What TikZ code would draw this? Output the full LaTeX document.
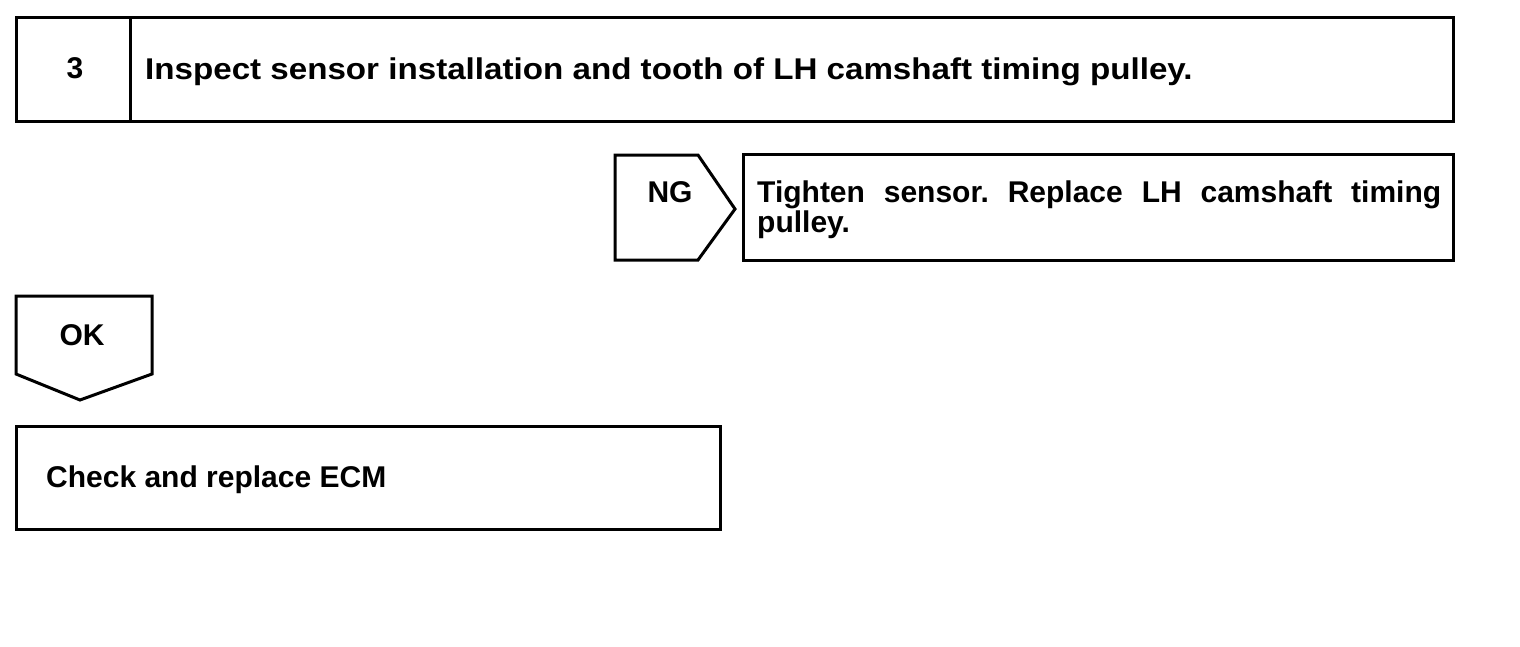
\documentclass[tikz,border=0pt]{standalone}
\usepackage{fontspec}
\setmainfont{Liberation Sans}
\frenchspacing
\begin{document}
\begin{tikzpicture}[x=1pt,y=-1pt,
  frame/.style={draw=black,line width=3pt,line join=miter},
  lbl/.style={font=\fontsize{30}{30}\selectfont\bfseries,inner sep=0pt}]
\useasboundingbox[fill=white] (0,0) rectangle (1520,646);
% step box
\draw[frame] (16,17) rectangle (1453,121);
\draw[frame] (130,17) -- (130,121);
\node[lbl,anchor=base] (num) at (75,78) {3};
\node[lbl,anchor=base west] (title) at (145,79) {\scalebox{1.105}[1]{Inspect sensor installation and tooth of LH camshaft timing pulley.}};
% NG
\draw[frame] (615,155) -- (698,155) -- (735,209) -- (698,260) -- (615,260) -- cycle;
\node[lbl,anchor=base] (ng) at (670,202) {NG};
\draw[frame] (743,154) rectangle (1453,260);
\node[lbl,anchor=north west,text width=684pt,align=left] (ngtext) at (757,181) {\makebox[684pt][l]{Tighten\hfill sensor.\hfill Replace\hfill LH\hfill camshaft\hfill timing}\\pulley.};
% OK
\draw[frame] (16,296) -- (152,296) -- (152,374) -- (80,400) -- (16,374) -- cycle;
\node[lbl,anchor=base] (ok) at (82,345) {OK};
% ECM
\draw[frame] (16,426) rectangle (720,529);
\node[lbl,anchor=base west] (ecm) at (46,487) {Check and replace ECM};
\end{tikzpicture}
\end{document}
